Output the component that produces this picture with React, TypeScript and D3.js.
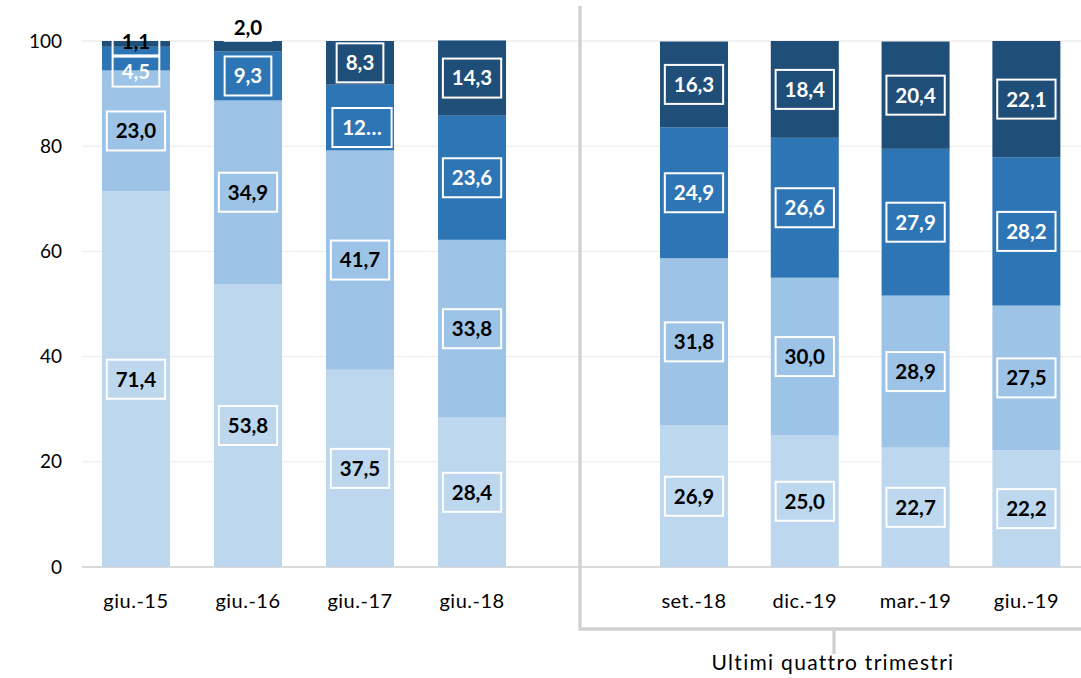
import React from "react";
import * as d3 from "d3";

const leftCats = ["giu.-15", "giu.-16", "giu.-17", "giu.-18"];
const rightCats = ["set.-18", "dic.-19", "mar.-19", "giu.-19"];
const categories = [...leftCats, ...rightCats];

const seriesA = [71.4, 53.8, 37.5, 28.4, 26.9, 25.0, 22.7, 22.2];
const seriesB = [23.0, 34.9, 41.7, 33.8, 31.8, 30.0, 28.9, 27.5];
const seriesC = [4.5, 9.3, 12.5, 23.6, 24.9, 26.6, 27.9, 28.2];
const seriesD = [1.1, 2.0, 8.3, 14.3, 16.3, 18.4, 20.4, 22.1];

const yTicks = [0, 20, 40, 60, 80, 100];
const groupLabel = "Ultimi quattro trimestri";

const seriesList = [seriesA, seriesB, seriesC, seriesD];
const colors = ["#BDD7EE", "#9DC3E6", "#2E75B6", "#1F4E79"];
const textColors = ["#000", "#000", "#fff", "#fff"];

// label adjustments (Excel moved overlapping labels)
const labelAdjust: Record<string, { dy?: number; dx?: number; h?: number; color?: string; text?: string }> = {
  "0-3": { dy: -2, h: 27, color: "#000" },
  "0-2": { dy: 13, h: 30 },
  "1-3": { dy: -19, h: 27, color: "#000" },
  "2-2": { dy: 10, dx: 2, text: "12…" },
};

const FONT = "Lato, 'Open Sans', sans-serif";

export default function App() {
  const W = 1081;
  const H = 678;
  const y = d3.scaleLinear().domain([0, 100]).range([567, 41]);
  const xLeft = d3.scaleBand<string>().domain(leftCats).range([80, 528]).paddingInner(0.393).paddingOuter(0.196);
  const xRight = d3.scaleBand<string>().domain(rightCats).range([638.6, 1081.8]).paddingInner(0.386).paddingOuter(0.193);
  const xPos = (i: number) => (i < 4 ? xLeft(leftCats[i])! : xRight(rightCats[i - 4])!);
  const bw = xLeft.bandwidth();

  const stack = categories.map((_, i) => {
    let acc = 0;
    return seriesList.map((s) => {
      const v0 = acc;
      acc += s[i];
      return [v0, acc, s[i]];
    });
  });

  const fmt = (v: number) => v.toFixed(1).replace(".", ",");
  const charW = (t: string) => {
    let w = 0;
    for (const c of t) w += c === "," ? 5.5 : c === "…" ? 18 : 11.6;
    return w;
  };

  return (
    <svg width={W} height={H} style={{ position: "absolute", left: 0, top: 0, display: "block" }} fontFamily={FONT}>
      <rect width={W} height={H} fill="#fff" />
      {yTicks.map((t) => (
        <g key={t}>
          <line x1={82} x2={W} y1={y(t)} y2={y(t)} stroke={t === 0 ? "#D9D9D9" : "#EEEEEE"} strokeWidth={t === 0 ? 2 : 1.3} />
          <text x={62} y={y(t)} dy="0.35em" textAnchor="end" fontSize={19} fill="#000">
            {t}
          </text>
        </g>
      ))}
      {stack.map((segs, i) => (
        <g key={categories[i]}>
          {segs.map(([v0, v1], j) => (
            <rect key={j} x={xPos(i)} width={bw} y={y(v1)} height={y(v0) - y(v1)} fill={colors[j]} />
          ))}
        </g>
      ))}
      {stack.map((segs, i) =>
        segs.map(([v0, v1, v], j) => {
          const adj = labelAdjust[`${i}-${j}`] || {};
          const txt = adj.text ?? fmt(v);
          const cx = xPos(i) + bw / 2 + (adj.dx ?? 0);
          const cy = (y(v0) + y(v1)) / 2 + (adj.dy ?? 0);
          const bh = adj.h ?? 39;
          const boxW = charW(txt) + 18;
          return (
            <g key={`${i}-${j}`}>
              <rect x={cx - boxW / 2} y={cy - bh / 2} width={boxW} height={bh} fill="none" stroke="#fff" strokeWidth={2} />
              <text x={cx} y={cy} dy="0.36em" textAnchor="middle" fontSize={20.5} fontWeight="bold" fill={adj.color ?? textColors[j]}>
                {txt}
              </text>
            </g>
          );
        })
      )}
      {categories.map((c, i) => (
        <text key={c} x={xPos(i) + bw / 2} y={601} dy="0.35em" textAnchor="middle" fontSize={20} letterSpacing={0.5} fill="#000">
          {c}
        </text>
      ))}
      <path d="M580,6 V629 H1081" fill="none" stroke="#D0D0D0" strokeWidth={3.3} />
      <line x1={834} x2={834} y1={629} y2={654} stroke="#D0D0D0" strokeWidth={3.3} />
      <text x={833} y={663} dy="0.35em" textAnchor="middle" fontSize={21} letterSpacing={1.3} fill="#000">
        {groupLabel}
      </text>
    </svg>
  );
}
